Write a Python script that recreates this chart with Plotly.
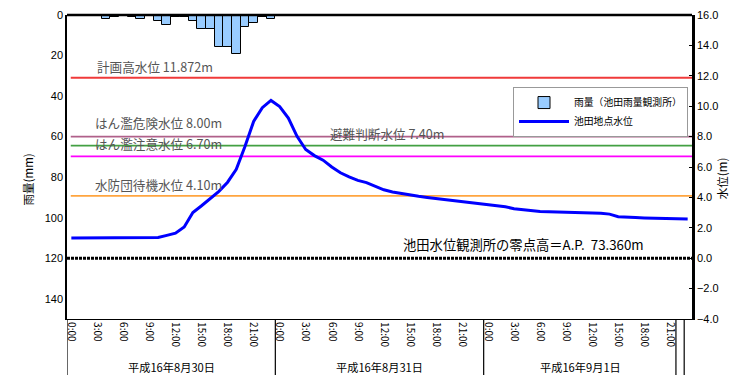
import plotly.graph_objects as go

# ---------------- data ----------------
hour_index = list(range(72))
hour_labels = [f"{h}:00" for h in range(0, 24, 3)] * 3
hour_ticks = list(range(0, 72, 3))
day_labels = ["平成16年8月30日", "平成16年8月31日", "平成16年9月1日"]

rain_mm = [0, 0, 0, 0, 2, 1, 0, 1, 2, 0, 3, 5, 1, 1, 3, 7, 7, 16, 16, 19, 6, 4, 1, 2] + [0] * 48

water_level_m = [
    1.33, 1.33, 1.33, 1.33, 1.34, 1.34, 1.34, 1.34, 1.34, 1.35, 1.36, 1.50,
    1.65, 2.05, 3.00, 3.45, 3.95, 4.40, 5.00, 5.85, 7.35, 9.00, 9.90, 10.38,
    9.98, 9.22, 8.02, 7.15, 6.75, 6.45, 6.00, 5.62, 5.35, 5.12, 4.97, 4.75,
    4.50, 4.36, 4.25, 4.15, 4.07, 3.99, 3.92, 3.84, 3.77, 3.72, 3.64, 3.60,
    3.52, 3.44, 3.38, 3.26, 3.19, 3.12, 3.08, 3.06, 3.05, 3.04, 3.02, 3.00,
    2.97, 2.95, 2.90, 2.73, 2.68, 2.67, 2.65, 2.63, 2.61, 2.60, 2.59, 2.58,
]

level_names = ["計画高水位 11.872m", "はん濫危険水位 8.00m", "避難判断水位 7.40m",
               "はん濫注意水位 6.70m", "水防団待機水位 4.10m"]
level_values = [11.872, 8.00, 7.40, 6.70, 4.10]
level_colors = ["#f03a3a", "#b0608a", "#43a043", "#ff00ff", "#ffa53f"]
level_label_x = [0.045, 0.042, 0.418, 0.042, 0.042]  # paper x of label start
level_label_shift = [0, 3, 1, 1, 0]

zero_label = "池田水位観測所の零点高＝A.P.  73.360m"

rain_left = [0, 20, 40, 60, 80, 100, 120, 140]
level_right = [-4, -2, 0, 2, 4, 6, 8, 10, 12, 14, 16]

FONT = "Liberation Sans, Arial, Noto Sans CJK JP, sans-serif"
CJK = "Noto Sans CJK JP, sans-serif"

fig = go.Figure()

fig.add_trace(go.Bar(
    x=hour_index, y=rain_mm, width=1.0, name="雨量（池田雨量観測所）",
    marker=dict(color="#99ccff", line=dict(color="black", width=1)),
    yaxis="y",
))
fig.add_trace(go.Scatter(
    x=hour_index, y=water_level_m, mode="lines", name="池田地点水位",
    line=dict(color="#0000ff", width=3), yaxis="y2",
))

shapes = []
annotations = []
for name, val, col, lx, sh in zip(level_names, level_values, level_colors,
                                  level_label_x, level_label_shift):
    shapes.append(dict(type="line", xref="paper", yref="y2", x0=0.006, x1=1,
                       y0=val, y1=val, line=dict(color=col, width=1.8),
                       layer="below"))
    annotations.append(dict(text=name, xref="paper", yref="y2", x=lx, y=val,
                            xanchor="left", yanchor="bottom", yshift=sh,
                            showarrow=False,
                            font=dict(family=CJK, size=12.6, color="#555555")))

# zero line
shapes.append(dict(type="line", xref="paper", yref="y2", x0=0, x1=1, y0=0, y1=0,
                   line=dict(color="black", width=3, dash="3px,1px")))
annotations.append(dict(text=zero_label, xref="paper", yref="y2", x=0.535, y=0,
                        xanchor="left", yanchor="bottom", yshift=2, showarrow=False,
                        font=dict(family=CJK, size=13.3, color="black")))

# top border
shapes.append(dict(type="line", xref="paper", yref="paper", x0=0, x1=1, y0=1, y1=1,
                   line=dict(color="black", width=2.5)))

# date table lines under the axis
for xv in [-0.5, 23.5, 47.5, 69.65, 70.6]:
    shapes.append(dict(type="line", xref="x", yref="paper", x0=xv, x1=xv,
                       y0=0, y1=-0.2, line=dict(color="black", width=1.2)))

for lab, xc in zip(day_labels, [11.5, 35.5, 58.6]):
    annotations.append(dict(text=lab, xref="x", yref="paper", x=xc, y=-0.158,
                            xanchor="center", yanchor="middle", showarrow=False,
                            font=dict(family=CJK, size=11.2, color="black")))

# axis titles
annotations.append(dict(text="雨量(mm)", xref="paper", yref="paper", x=-0.062, y=0.46,
                        xanchor="center", yanchor="middle", textangle=-90,
                        showarrow=False, font=dict(family=CJK, size=11.5, color="black")))
annotations.append(dict(text="水位(m)", xref="paper", yref="paper", x=1.048, y=0.46,
                        xanchor="center", yanchor="middle", textangle=-90,
                        showarrow=False, font=dict(family=CJK, size=11.5, color="black")))

# the page body has an 8px margin, so the figure is sized/offset to compensate
fig.update_layout(
    width=735, height=367,
    margin=dict(l=59, r=51, t=7, b=56, autoexpand=False),
    paper_bgcolor="white", plot_bgcolor="white",
    bargap=0, showlegend=True,
    font=dict(family=FONT, size=11, color="black"),
    xaxis=dict(range=[-0.5, 71.5], tickvals=hour_ticks, ticktext=hour_labels,
               tickangle=90, showgrid=False, zeroline=False, showline=True,
               linecolor="black", linewidth=1.2, ticks="", automargin=False,
               tickfont=dict(family=CJK, size=10)),
    yaxis=dict(range=[150, 0], tickvals=rain_left, showgrid=False, zeroline=False,
               showline=True, linecolor="black", linewidth=1.5, ticks="",
               automargin=False, tickfont=dict(size=11)),
    yaxis2=dict(range=[-4, 16], tickvals=level_right, tickformat=".1f",
                overlaying="y", side="right", showgrid=False, zeroline=False,
                showline=True, linecolor="black", linewidth=2.5,
                ticks="inside", ticklen=3, tickcolor="black", automargin=False,
                tickfont=dict(size=11)),
    legend=dict(x=0.9936, y=0.763, xanchor="right", yanchor="top",
                bgcolor="white", bordercolor="#999999", borderwidth=1,
                itemwidth=50,
                font=dict(family=CJK, size=9.8), tracegroupgap=2),
    shapes=shapes, annotations=annotations,
)

fig.write_html("out.html")
